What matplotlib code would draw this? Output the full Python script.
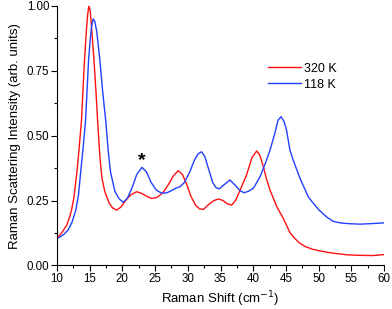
import matplotlib
matplotlib.use("Agg")
import matplotlib.pyplot as plt
from matplotlib.ticker import MultipleLocator

plt.rcParams['font.family'] = ['Liberation Sans', 'DejaVu Sans']

red_x = [10, 10.5, 11, 11.5, 12, 12.24, 12.6, 13.1, 13.4, 13.77, 14.0, 14.23, 14.5, 14.7, 14.89,
         15.1, 15.3, 15.5, 15.7, 16.0, 16.22, 16.57, 16.9, 17.34, 18.0, 18.5, 19.13, 19.8, 20.5,
         21.3, 22.2, 23.0, 23.8, 24.5, 25.3, 26.2, 27.0, 27.8, 28.55, 29.2, 29.8, 30.5, 31.2,
         31.8, 32.4, 33.2, 34.0, 34.7, 35.4, 36.0, 36.7, 37.3, 38.0, 39.0, 39.8, 40.53, 41.0,
         41.55, 42.0, 42.57, 43.6, 44.6, 45.6, 46.3, 47.15, 48.0, 49.1, 50.2, 51.7, 53.0, 54.3,
         56.0, 58.3, 60.0]
red_y = [0.105, 0.118, 0.135, 0.155, 0.19, 0.213, 0.26, 0.3675, 0.45, 0.56, 0.68, 0.792, 0.90,
         0.965, 1.0, 0.98, 0.92, 0.85, 0.78, 0.66, 0.56, 0.42, 0.335, 0.283, 0.24, 0.222, 0.213,
         0.225, 0.25, 0.272, 0.284, 0.277, 0.265, 0.258, 0.262, 0.28, 0.31, 0.345, 0.365, 0.35,
         0.315, 0.265, 0.232, 0.218, 0.216, 0.235, 0.25, 0.256, 0.25, 0.238, 0.2325, 0.25, 0.29,
         0.35, 0.415, 0.441, 0.425, 0.38, 0.335, 0.29, 0.226, 0.181, 0.127, 0.105, 0.085, 0.072,
         0.062, 0.056, 0.049, 0.045, 0.041, 0.039, 0.038, 0.042]

blue_x = [10, 10.5, 11, 11.7, 12.3, 12.9, 13.3, 13.67, 14.0, 14.39, 14.85, 15.1, 15.3, 15.55,
          15.8, 16.1, 16.57, 17.0, 17.5, 17.85, 18.2, 18.87, 19.5, 20.14, 20.8, 21.5, 22.2, 23.0,
          23.7, 24.4, 25.2, 26.05, 26.8, 27.5, 28.2, 28.8, 29.5, 30.3, 31.0, 31.6, 32.1, 32.6,
          33.2, 33.8, 34.3, 34.8, 35.5, 36.45, 37.2, 38.0, 38.6, 39.3, 40.0, 40.5, 41.04, 41.8,
          42.57, 43.3, 43.8, 44.25, 44.7, 45.1, 45.6, 46.1, 47.15, 48.4, 49.0, 50.0, 51.2, 52.2,
          53.3, 54.5, 56.3, 58.0, 60.0]
blue_y = [0.103, 0.11, 0.118, 0.136, 0.165, 0.213, 0.27, 0.3675, 0.45, 0.56, 0.792, 0.87, 0.92,
          0.95, 0.94, 0.90, 0.792, 0.67, 0.55, 0.44, 0.36, 0.285, 0.257, 0.243, 0.26, 0.30, 0.35,
          0.378, 0.36, 0.32, 0.29, 0.278, 0.28, 0.288, 0.298, 0.303, 0.32, 0.36, 0.405, 0.43,
          0.438, 0.42, 0.37, 0.32, 0.30, 0.295, 0.31, 0.329, 0.31, 0.288, 0.28, 0.286, 0.297,
          0.318, 0.342, 0.39, 0.445, 0.509, 0.56, 0.573, 0.555, 0.52, 0.445, 0.406, 0.335, 0.265,
          0.245, 0.215, 0.187, 0.17, 0.164, 0.161, 0.159, 0.161, 0.164]

labels = ["320 K", "118 K"]
colors = ["#ff1010", "#2040ff"]

fig = plt.figure(figsize=(3.92, 3.09), dpi=100)
ax = fig.add_axes([0.145, 0.141, 0.835, 0.840])
ax.plot(red_x, red_y, color=colors[0], lw=1.0, label=labels[0])
ax.plot(blue_x, blue_y, color=colors[1], lw=1.0, label=labels[1])

ax.set_xlim(10, 60)
ax.set_ylim(0, 1.0)
ax.xaxis.set_major_locator(MultipleLocator(5))
ax.xaxis.set_minor_locator(MultipleLocator(2.5))
ax.yaxis.set_major_locator(MultipleLocator(0.25))
ax.yaxis.set_minor_locator(MultipleLocator(0.125))
ax.yaxis.set_major_formatter(plt.FormatStrFormatter('%.2f'))
for s in ['top', 'right']:
    ax.spines[s].set_visible(False)
ax.tick_params(which='major', direction='out', length=4, width=0.8, labelsize=8.3, pad=1.5)
ax.tick_params(which='minor', direction='out', length=2.5, width=0.8)

ax.set_xlabel("Raman Shift (cm$^{-1}$)", fontsize=9.5, labelpad=3)
ax.set_ylabel("Raman Scattering Intensity (arb. units)", fontsize=9.5)

ax.text(23, 0.405, "*", ha='center', va='center', fontsize=14, fontweight='bold')

ax.legend(loc='upper left', bbox_to_anchor=(0.63, 0.80), frameon=False, fontsize=9,
          handlelength=2.6, handletextpad=0.3, labelspacing=0.3, borderaxespad=0)

fig.savefig("out.png", dpi=100)
